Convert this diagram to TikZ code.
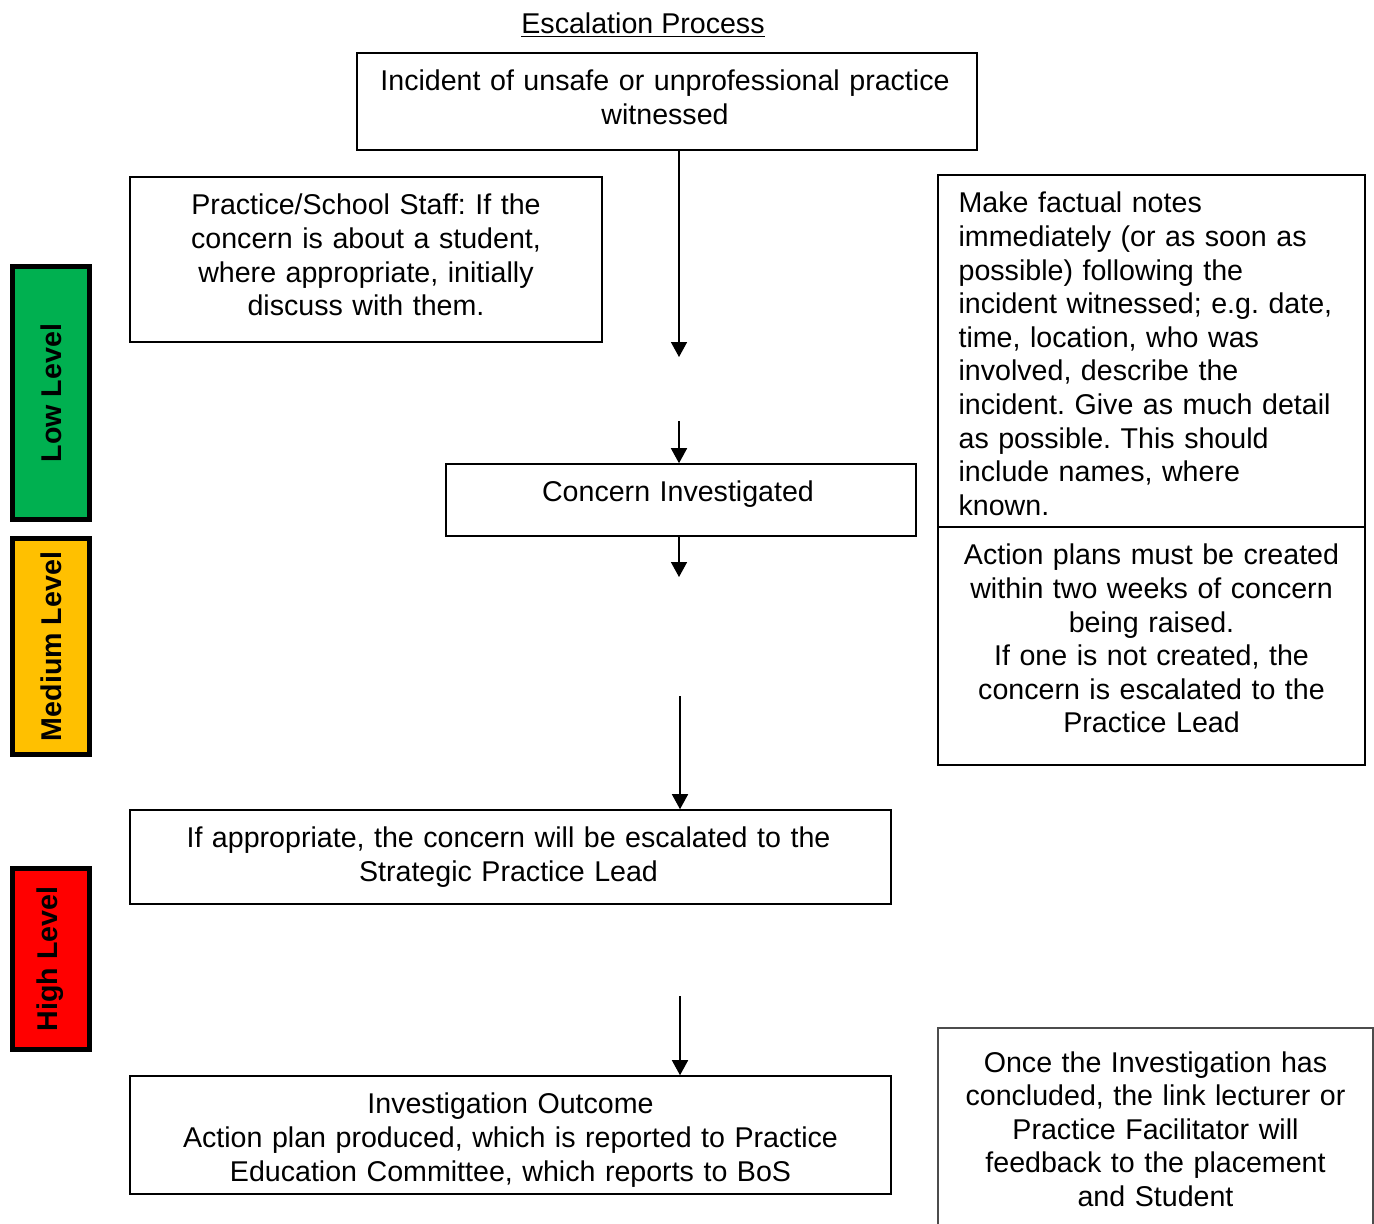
\documentclass[tikz,border=0pt]{standalone}
\usepackage{fontspec}
\setmainfont{Liberation Sans}
\usetikzlibrary{arrows.meta}
\definecolor{lowgreen}{HTML}{00B050}
\definecolor{medyellow}{HTML}{FFC000}
\definecolor{highred}{HTML}{FF0000}
\frenchspacing
\begin{document}
\begin{tikzpicture}[x=0.5pt,y=-0.5pt,
  box/.style={draw=black,line width=0.8pt,rectangle,inner sep=0pt},
  txt/.style={font=\fontsize{14.3}{16.8}\selectfont,inner sep=0pt,anchor=north,align=center,execute at begin node={\strut}},
  lvl/.style={draw=black,line width=2.5pt,rectangle,inner sep=0pt,minimum width=38.5pt},
  lvltxt/.style={font=\fontsize{14.3}{16.8}\selectfont\bfseries,rotate=90,inner sep=0pt},
  arr/.style={line width=0.8pt,-{Triangle[width=8pt,length=7.5pt]}}]
\useasboundingbox (0,0) rectangle (1374,1223);
\clip (0,0) rectangle (1374,1223);
\fill[white] (0,0) rectangle (1374,1223);

% title
\node[font=\fontsize{14.3}{16.8}\selectfont,inner sep=0pt] (title) at (643,25) {\underline{Escalation Process}};

% boxes
\node[box,minimum width=310pt,minimum height=48.5pt] (inc) at (667,101.5) {};
\node[box,minimum width=236pt,minimum height=82.5pt] (prac) at (366,259.5) {};
\node[box,minimum width=213.5pt,minimum height=176pt] (notes) at (1151.5,351) {};
\node[box,minimum width=213.5pt,minimum height=119pt] (action) at (1151.5,646) {};
\node[box,minimum width=235pt,minimum height=36pt] (concern) at (681,500) {};
\node[box,minimum width=380.5pt,minimum height=47pt] (esc) at (510.5,857) {};
\node[box,minimum width=380.5pt,minimum height=59pt] (outc) at (510.5,1135) {};
\node[box,draw=black!70,line width=0.6pt,minimum width=217.5pt,minimum height=101pt] (once) at (1155.5,1129) {};

% texts
\node[txt,text width=305pt] (inct) at ([xshift=-1pt,yshift=-7.4pt]inc.north) {Incident of unsafe or unprofessional practice\\witnessed};
\node[txt,text width=230pt] (pract) at ([yshift=-7.4pt]prac.north) {Practice/School Staff: If the\\concern is about a student,\\where appropriate, initially\\discuss with them.};
\node[txt,anchor=north west,align=left,text width=205pt] (notest) at ([xshift=10.5pt,yshift=-7.4pt]notes.north west) {Make factual notes\\immediately (or as soon as\\possible) following the\\incident witnessed; e.g. date,\\time, location, who was\\involved, describe the\\incident. Give as much detail\\as possible. This should\\include names, where\\known.};
\node[txt,text width=210pt] (actiont) at ([yshift=-7.4pt]action.north) {Action plans must be created\\within two weeks of concern\\being raised.\\If one is not created, the\\concern is escalated to the\\Practice Lead};
\node[txt,text width=230pt] (concernt) at ([xshift=-1.5pt,yshift=-7.4pt]concern.north) {Concern Investigated};
\node[txt,text width=375pt] (esct) at ([xshift=-1pt,yshift=-7.4pt]esc.north) {If appropriate, the concern will be escalated to the\\Strategic Practice Lead};
\node[txt,text width=375pt] (outct) at ([yshift=-7.4pt]outc.north) {Investigation Outcome\\Action plan produced, which is reported to Practice\\Education Committee, which reports to BoS};
\node[txt,text width=212pt] (oncet) at ([yshift=-10.4pt]once.north) {Once the Investigation has\\concluded, the link lecturer or\\Practice Facilitator will\\feedback to the placement\\and Student};

% level bars
\node[lvl,fill=lowgreen,minimum height=126.5pt] (low) at (51,393) {};
\node[lvltxt] (lowt) at (low.center) {Low Level};
\node[lvl,fill=medyellow,minimum height=108pt] (med) at (51,646.5) {};
\node[lvltxt] (medt) at (med.center) {Medium Level};
\node[lvl,fill=highred,minimum height=90.5pt] (high) at (50.5,959) {};
\node[lvltxt] (hight) at (high.center) {High Level};

% arrows
\coordinate (a1e) at (679,357);
\coordinate (a2s) at (679,421);
\coordinate (a3e) at (679,577);
\coordinate (a4s) at (680,696);
\coordinate (a5s) at (680,996);
\draw[arr] (inc.south -| a1e) -- (a1e);
\draw[arr] (a2s) -- (a2s |- concern.north);
\draw[arr] (concern.south -| a3e) -- (a3e);
\draw[arr] (a4s) -- (a4s |- esc.north);
\draw[arr] (a5s) -- (a5s |- outc.north);
\end{tikzpicture}
\end{document}
